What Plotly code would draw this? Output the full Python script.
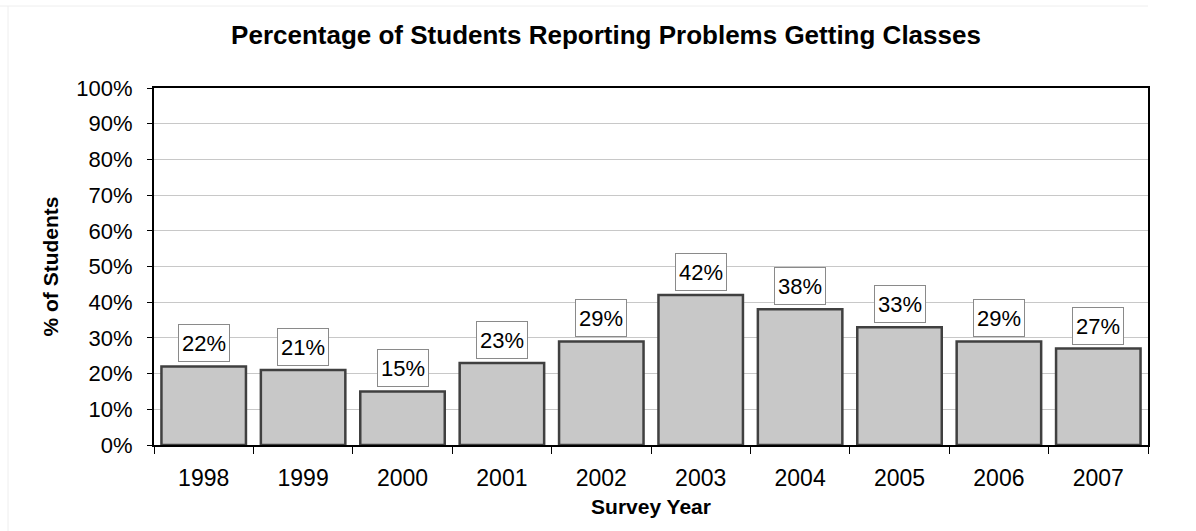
import plotly.graph_objects as go

# Survey results
years = ["1998", "1999", "2000", "2001", "2002", "2003", "2004", "2005", "2006", "2007"]
pct_students = [22, 21, 15, 23, 29, 42, 38, 33, 29, 27]
y_ticks = list(range(0, 101, 10))
y_tick_labels = [f"{v}%" for v in y_ticks]

FONT = "Liberation Sans, Arial, sans-serif"

fig = go.Figure()
fig.add_trace(go.Bar(
    x=years,
    y=pct_students,
    width=0.85,
    marker=dict(color="#C8C8C8", line=dict(color="#404040", width=2.5)),
    hoverinfo="skip",
))

# Value labels in boxes above each bar (x given as category index)
for i, v in enumerate(pct_students):
    fig.add_annotation(
        x=i, y=v, text=f"{v}%", showarrow=False,
        xref="x", yref="y",
        yanchor="bottom", yshift=4,
        width=44, height=30,
        font=dict(family=FONT, size=22, color="black"),
        bgcolor="white", bordercolor="#8a8a8a", borderwidth=1, borderpad=3,
    )

fig.update_layout(
    width=1196, height=531,
    margin=dict(l=154, r=48, t=88, b=86),
    paper_bgcolor="white", plot_bgcolor="white",
    showlegend=False,
    font=dict(family=FONT, color="black"),
    title=dict(
        text="<b>Percentage of Students Reporting Problems Getting Classes</b>",
        x=606 / 1196, xref="container", xanchor="center",
        y=1 - 35 / 531, yref="container", yanchor="middle",
        font=dict(family=FONT, size=26, color="black"),
    ),
    xaxis=dict(
        type="category", range=[-0.5, 9.5],
        showline=True, linecolor="black", linewidth=2, mirror=True,
        ticks="outside", tickson="boundaries", ticklen=7, tickcolor="black", tickwidth=1,
        tickfont=dict(family=FONT, size=23), ticklabelstandoff=11,
        title=dict(text="<b>Survey Year</b>", font=dict(family=FONT, size=21), standoff=10),
        showgrid=False,
    ),
    yaxis=dict(
        range=[0, 100], tickvals=y_ticks, ticktext=y_tick_labels,
        showline=True, linecolor="black", linewidth=2, mirror=True,
        ticks="outside", ticklen=5, tickcolor="black", tickwidth=1,
        tickfont=dict(family=FONT, size=22), ticklabelstandoff=10,
        showgrid=True, gridcolor="#C8C8C8", gridwidth=1,
        title=dict(text="<b>% of Students</b>", font=dict(family=FONT, size=21), standoff=12),
        zeroline=False,
    ),
    shapes=[
        dict(type="line", xref="paper", yref="paper", layer="below",
             x0=-154 / 994, x1=1, y0=1 + 82 / 357, y1=1 + 82 / 357,
             line=dict(color="#EEEEEE", width=1)),
        dict(type="line", xref="paper", yref="paper", layer="below",
             x0=-146 / 994, x1=-146 / 994, y0=-86 / 357, y1=1 + 82 / 357,
             line=dict(color="#EEEEEE", width=1)),
    ],
)

fig.write_html("out.html")
